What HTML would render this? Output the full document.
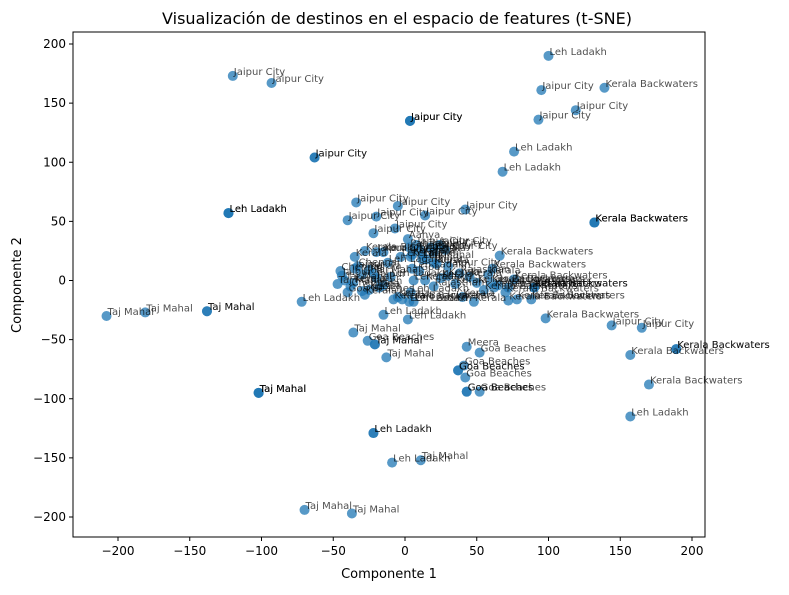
<!DOCTYPE html>
<html><head><meta charset="utf-8"><style>
body{margin:0;background:#fff;font-family:"Liberation Sans","DejaVu Sans",sans-serif}
svg text{font-family:"DejaVu Sans","Liberation Sans",sans-serif}
</style></head><body>
<svg id="chart" width="789" height="590" xmlns="http://www.w3.org/2000/svg">
<rect width="789" height="590" fill="#fff"/>
<text x="397" y="24" text-anchor="middle" font-size="16">Visualización de destinos en el espacio de features (t-SNE)</text>
<g id="plot"></g>
<rect x="73" y="32" width="632" height="505" fill="none" stroke="#000" stroke-width="1"/>
<g id="axes"></g>
<text x="389" y="578" text-anchor="middle" font-size="13">Componente 1</text>
<text x="21" y="285" text-anchor="middle" font-size="13" transform="rotate(-90 21 285)">Componente 2</text>
</svg>
<script>
const xTicks=[-200,-150,-100,-50,0,50,100,150,200];
const yTicks=[-200,-150,-100,-50,0,50,100,150,200];
const xs=[-120,-93,100,95,139,119,93,3.5,3.5,3.5,-63,-63,76,68,-123,-123,-123,132,132,132,-34,-40,-20,-5,42,14,-7,-22,66,61,76,-72,-15,2,98,144,165,-208,-181,-138,-138,-36,-26,-21,-21,-13,-102,-102,-102,43,52,41,37,37,42,43,43,52,-22,-22,-9,11,-70,-37,157,170,157,189,189,
-45,-42,-38,-35,-30,-25,-20,-47,-40,-33,-28,-22,-18,-44,-36,-30,-25,-15,-10,-5,-35,-28,-20,-12,
2,3,4,5,6,4,3,6,8,10,12,15,18,20,24,28,10,14,20,25,30,35,22,30,38,45,50,55,62,65,70,78,88,40,48,58,60,72,72,90,90,-8,-2,5,12,20,-15,-3];
const ys=[173,167,190,161,163,144,136,135,135,135,104,104,109,92,57,57,57,49,49,49,66,51,54,63,60,55,44,40,21,10,1,-18,-29,-33,-32,-38,-40,-30,-27,-26,-26,-44,-51,-54,-54,-65,-95,-95,-95,-56,-61,-72,-76,-76,-82,-94,-94,-94,-129,-129,-154,-152,-194,-197,-115,-88,-63,-58,-58,
8,0,-5,10,5,-8,2,-3,-10,12,-12,6,-6,4,-2,-9,9,-4,3,-14,20,25,24,15,
35,28,20,10,0,-10,-18,-18,30,26,22,18,28,24,30,26,8,0,-5,2,4,-3,14,12,6,3,-2,-8,-6,-4,-10,-16,-16,-14,-18,5,-2,-6,-17,-6,-6,-16,-16,22,18,15,24,20,0,-10];
const labels=["Jaipur City","Jaipur City","Leh Ladakh","Jaipur City","Kerala Backwaters","Jaipur City","Jaipur City","Jaipur City","Jaipur City","Jaipur City","Jaipur City","Jaipur City","Leh Ladakh","Leh Ladakh","Leh Ladakh","Leh Ladakh","Leh Ladakh","Kerala Backwaters","Kerala Backwaters","Kerala Backwaters","Jaipur City","Jaipur City","Jaipur City","Jaipur City","Jaipur City","Jaipur City","Jaipur City","Jaipur City","Kerala Backwaters","Kerala Backwaters","Kerala Backwaters","Leh Ladakh","Leh Ladakh","Leh Ladakh","Kerala Backwaters","Jaipur City","Jaipur City","Taj Mahal","Taj Mahal","Taj Mahal","Taj Mahal","Taj Mahal","Goa Beaches","Taj Mahal","Taj Mahal","Taj Mahal","Taj Mahal","Taj Mahal","Taj Mahal","Meera","Goa Beaches","Goa Beaches","Goa Beaches","Goa Beaches","Goa Beaches","Goa Beaches","Goa Beaches","Goa Beaches","Leh Ladakh","Leh Ladakh","Leh Ladakh","Taj Mahal","Taj Mahal","Taj Mahal","Leh Ladakh","Kerala Backwaters","Kerala Backwaters","Kerala Backwaters","Kerala Backwaters",
"Chennai","Taj Mahal","Chennai","Jaipur","Goa","Kerala","Jaipur","Taj Mahal","Goa Beaches","Chennai","Kerala","Taj Mahal","Goa","Jaipur","Kerala","Goa","Kerala","Leh","Leh Ladakh","Kerala","Kerala","Kerala Backwaters","Jaipur City","Leh Ladakh",
"Aahya","Pahaya","Kerala","Leh Ladakh","Leh Ladakh","Leh Ladakh","Leh Ladakh","Leh Ladakh","Jaipur City","Jaipur City","Kerala","Taj Mahal","Jaipur City","Kerala","Jaipur City","Jaipur City","Goa","Kerala","Rajasthan","Kerala","Kerala","Kerala","Kerala","Jaipur City","Rajasthan","Kerala","Kerala Backwaters","Kerala Backwaters","Kerala Backwaters","Kerala Backwaters","Kerala Backwaters","Kerala Backwaters","Kerala Backwaters","Kerala","Kerala","Kerala","Kerala Backwaters","Kerala Backwaters","Kerala Backwaters","Kerala Backwaters","Kerala Backwaters","Kerala Backwaters","Kerala Backwaters","Kerala","Leh","Jaipur","Kerala","Leh Ladakh"];
const X=v=>405+v*1.435, Y=v=>280.5-v*1.1825;
const NS="http://www.w3.org/2000/svg";
const plot=document.getElementById('plot'), axes=document.getElementById('axes');
function mk(t,a,p){const e=document.createElementNS(NS,t);for(const k in a)e.setAttribute(k,a[k]);p.appendChild(e);return e;}
xTicks.forEach(t=>{const x=X(t);
 const l=mk('line',{x1:x,x2:x,y1:537,y2:541,stroke:'#000'},axes);
 
 
 const tx=mk('text',{x:x,y:555,'text-anchor':'middle','font-size':12},axes);tx.textContent=t<0?'\u2212'+(-t):t;
 
 });
yTicks.forEach(t=>{const y=Y(t);
 const l=mk('line',{x1:69,x2:73,y1:y,y2:y,stroke:'#000'},axes);
 
 
 const tx=mk('text',{x:66,y:y+4,'text-anchor':'end','font-size':12},axes);tx.textContent=t<0?'\u2212'+(-t):t;
 
 });
xs.forEach((v,i)=>{const c=mk('circle',{cx:X(v),cy:Y(ys[i]),r:5,fill:'#1f77b4','fill-opacity':0.75},plot);
 
 });
xs.forEach((v,i)=>{const t=mk('text',{x:X(v)+1,y:Y(ys[i])-1,'font-size':10,fill:'#000','fill-opacity':0.7},plot);t.textContent=labels[i];
 
 });
</script>
</body></html>
